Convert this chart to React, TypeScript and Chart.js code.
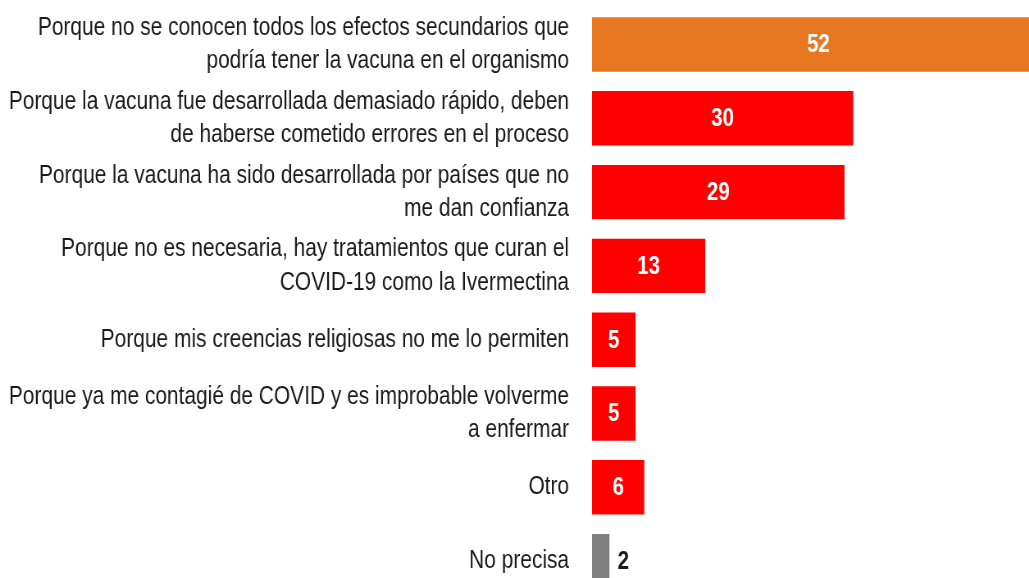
import React, { useEffect, useRef } from "react";
import { Chart, registerables } from "chart.js";

Chart.register(...registerables);

const categories: (string | string[])[] = [
  ["Porque no se conocen todos los efectos secundarios que", "podría tener la vacuna en el organismo"],
  ["Porque la vacuna fue desarrollada demasiado rápido, deben", "de haberse cometido errores en el proceso"],
  ["Porque la vacuna ha sido desarrollada por países que no", "me dan confianza"],
  ["Porque no es necesaria, hay tratamientos que curan el", "COVID-19 como la Ivermectina"],
  "Porque mis creencias religiosas no me lo permiten",
  ["Porque ya me contagié de COVID y es improbable volverme", "a enfermar"],
  "Otro",
  "No precisa",
];

const values: number[] = [52, 30, 29, 13, 5, 5, 6, 2];

const barColors: string[] = [
  "#E87722",
  "#FF0000",
  "#FF0000",
  "#FF0000",
  "#FF0000",
  "#FF0000",
  "#FF0000",
  "#808080",
];

const SX = 0.82; // horizontal condensation of the whole picture
const FONT = "'Liberation Sans', Arial, sans-serif";

const valueLabels = {
  id: "valueLabels",
  afterDatasetsDraw(chart: any) {
    const ctx = chart.ctx;
    const meta = chart.getDatasetMeta(0);
    const xs = chart.scales.x;
    const base = xs.getPixelForValue(0);
    ctx.save();
    ctx.font = `bold 25px ${FONT}`;
    ctx.textBaseline = "middle";
    meta.data.forEach((el: any, i: number) => {
      const v = values[i];
      const end = xs.getPixelForValue(v);
      if (v >= 3) {
        ctx.fillStyle = "#FFFFFF";
        ctx.textAlign = "center";
        ctx.fillText(String(v), (base + end) / 2, el.y + 1);
      } else {
        ctx.fillStyle = "#1a1a1a";
        ctx.textAlign = "left";
        ctx.fillText(String(v), end + 10, el.y + 1);
      }
    });
    ctx.restore();
  },
};

export default function App() {
  const ref = useRef<HTMLCanvasElement | null>(null);

  useEffect(() => {
    if (!ref.current) return;
    const chart = new Chart(ref.current, {
      type: "bar",
      data: {
        labels: categories,
        datasets: [
          {
            data: values,
            backgroundColor: barColors,
            borderWidth: 0,
            categoryPercentage: 1,
            barPercentage: 0.737,
          },
        ],
      },
      options: {
        indexAxis: "y",
        animation: false,
        responsive: false,
        maintainAspectRatio: false,
        layout: { padding: { top: 7.6, left: 0, right: 0, bottom: 0 } },
        plugins: {
          legend: { display: false },
          tooltip: { enabled: false },
        },
        scales: {
          x: {
            display: false,
            min: 0,
            max: 60,
            grid: { display: false },
          },
          y: {
            grid: { display: false, drawTicks: false },
            border: { display: false },
            afterFit(scale: any) {
              scale.width = 722;
              scale.paddingTop = 0;
              scale.paddingBottom = 0;
            },
            ticks: {
              padding: 28,
              color: "#1a1a1a",
              font: { family: FONT, size: 25.5, lineHeight: 1.3 },
            },
          },
        },
      },
      plugins: [valueLabels],
    });
    return () => chart.destroy();
  }, []);

  return (
    <div
      style={{
        position: "fixed",
        left: 0,
        top: 0,
        width: 1029,
        height: 578,
        overflow: "hidden",
        background: "#ffffff",
      }}
    >
      <div
        style={{
          width: 1359,
          height: 598,
          transform: `scaleX(${SX})`,
          transformOrigin: "0 0",
        }}
      >
        <canvas ref={ref} width={1359} height={598} style={{ display: "block" }} />
      </div>
    </div>
  );
}
